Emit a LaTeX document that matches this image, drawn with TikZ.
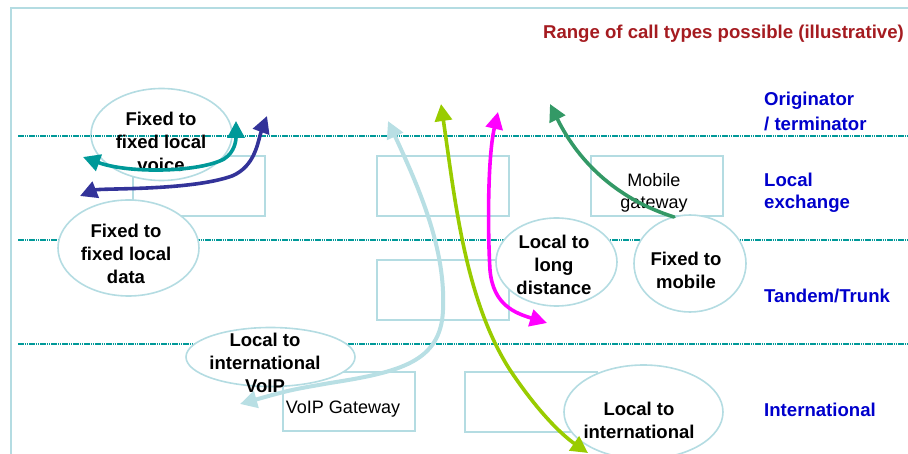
\documentclass[tikz,border=0pt]{standalone}
\usepackage{fontspec}
\setmainfont{Liberation Sans}
\usetikzlibrary{shapes.geometric,arrows.meta}

\definecolor{paleblue}{RGB}{180,220,226}
\definecolor{layerteal}{RGB}{0,153,153}
\definecolor{navyarrow}{RGB}{51,51,153}
\definecolor{limearrow}{RGB}{153,204,0}
\definecolor{pinkarrow}{RGB}{255,0,255}
\definecolor{greenarrow}{RGB}{51,153,102}
\definecolor{skyarrow}{RGB}{184,223,228}
\definecolor{titlered}{RGB}{165,27,32}
\definecolor{levelblue}{RGB}{0,0,204}

\tikzset{
  outerframe/.style={draw=paleblue, line width=1.4pt},
  switchbox/.style={draw=paleblue, line width=1.6pt, fill=white},
  callellipse/.style={ellipse, draw=paleblue, line width=1.6pt, fill=white, inner sep=0pt},
  layerline/.style={draw=layerteal, line width=2pt, dash pattern=on 1.5pt off 0.7pt},
  calltext/.style={font=\fontsize{18.5}{23}\selectfont\bfseries, align=center, inner sep=0pt},
  boxtext/.style={font=\fontsize{18}{22}\selectfont, align=center, inner sep=0pt},
  levellabel/.style={font=\fontsize{18.6}{22}\selectfont\bfseries, text=levelblue, anchor=base west, inner sep=0pt},
  callpath/.style={line width=3.6pt, line cap=round},
  twohead/.style={{Triangle[length=17pt,width=17pt]}-{Triangle[length=17pt,width=17pt]}},
  onehead/.style={-{Triangle[length=17pt,width=17pt]}},
}

\begin{document}
\begin{tikzpicture}[x=1pt,y=-1pt]
\useasboundingbox (0,0) rectangle (908,454);
\clip (0,0) rectangle (908,454);

% outer frame, running off the right and bottom edges
\draw[outerframe] (11,8) rectangle (940,480);

% switching boxes
\node[switchbox, minimum width=132pt, minimum height=60pt] (lx1) at (199,186) {};
\node[switchbox, minimum width=132pt, minimum height=60pt] (lx2) at (443,186) {};
\node[switchbox, minimum width=132pt, minimum height=60pt] (mgw) at (657,186) {};
\node[switchbox, minimum width=132pt, minimum height=60pt] (tdm) at (443,290) {};
\node[switchbox, minimum width=132pt, minimum height=59pt] (vgw) at (349,401.5) {};
\node[switchbox, minimum width=132pt, minimum height=60pt] (intl) at (531,402) {};

% local voice call sits beneath the layer line
\node[callellipse, minimum width=141pt, minimum height=92pt] (ev) at (161.5,134.5) {};

% layer separators
\draw[layerline] (18,136) -- (908,136);
\draw[layerline] (18,240) -- (908,240);
\draw[layerline] (18,344) -- (908,344);

% remaining call-type ellipses
\node[callellipse, minimum width=141pt, minimum height=96pt] (ed) at (128.5,248) {};
\node[callellipse, minimum width=169pt, minimum height=59pt] (evoip) at (270.5,357) {};
\node[callellipse, minimum width=121pt, minimum height=88pt] (eld) at (556.5,262) {};
\node[callellipse, minimum width=112pt, minimum height=97pt] (efm) at (690,263.5) {};
\node[callellipse, minimum width=159pt, minimum height=94pt] (eli) at (643.5,412) {};

% texts
\node[calltext] (tv) at (161,142) {Fixed to\\fixed local\\voice};
\node[calltext] (td) at (126,254) {Fixed to\\fixed local\\data};
\node[calltext] (tvoip) at (265,363) {Local to\\international\\VoIP};
\node[calltext] (tld) at (554,265) {Local to\\long\\distance};
\node[calltext] (tfm) at (686,270) {Fixed to\\mobile};
\node[calltext] (tli) at (639,420) {Local to\\international};
\node[boxtext] (tmgw) at (654,193) {Mobile\\gateway};
\node[boxtext] (tvgw) at (343,409) {VoIP Gateway};

% call path end points
\coordinate (tealA) at (83,157);
\coordinate (tealB) at (236,121);
\coordinate (navyA) at (80,196);
\coordinate (navyB) at (267,116);
\coordinate (skyA) at (388,121);
\coordinate (skyB) at (240,404);
\coordinate (limeA) at (441,104);
\coordinate (limeB) at (588,453);
\coordinate (pinkA) at (498,112);
\coordinate (pinkB) at (547,323);
\coordinate (greenA) at (674,217);
\coordinate (greenB) at (550,104);

% call paths
\draw[callpath, layerteal, twohead] (tealA) .. controls (130,174) and (200,172) .. (224,159) .. controls (235,152) and (236,140) .. (tealB);
\draw[callpath, navyarrow, twohead] (navyA) .. controls (100,188) and (190,191) .. (232,176) .. controls (256,166) and (258,140) .. (navyB);
\draw[callpath, skyarrow, line width=4pt, twohead] (skyA) .. controls (420,190) and (446,250) .. (443,310) .. controls (441,362) and (400,372) .. (330,383) .. controls (290,390) .. (skyB);
\draw[callpath, limearrow, twohead] (limeA) .. controls (455,200) and (465,300) .. (510,370) .. controls (538,412) and (562,435) .. (limeB);
\draw[callpath, pinkarrow, twohead] (pinkA) .. controls (487,160) and (488,240) .. (490,270) .. controls (493,305) and (515,313) .. (pinkB);
\draw[callpath, greenarrow, onehead] (greenA) .. controls (620,200) and (580,165) .. (greenB);

% title and layer names
\node[font=\fontsize{18.6}{22}\selectfont\bfseries, text=titlered, anchor=base east, inner sep=0pt] (title) at (904,39) {Range of call types possible (illustrative)};
\node[levellabel] (lv1a) at (764,106) {Originator};
\node[levellabel] (lv1b) at (764,131) {/ terminator};
\node[levellabel] (lv2a) at (764,187) {Local};
\node[levellabel] (lv2b) at (764,209) {exchange};
\node[levellabel] (lv3) at (764,303) {Tandem/Trunk};
\node[levellabel] (lv4) at (764,417) {International};
\end{tikzpicture}
\end{document}
